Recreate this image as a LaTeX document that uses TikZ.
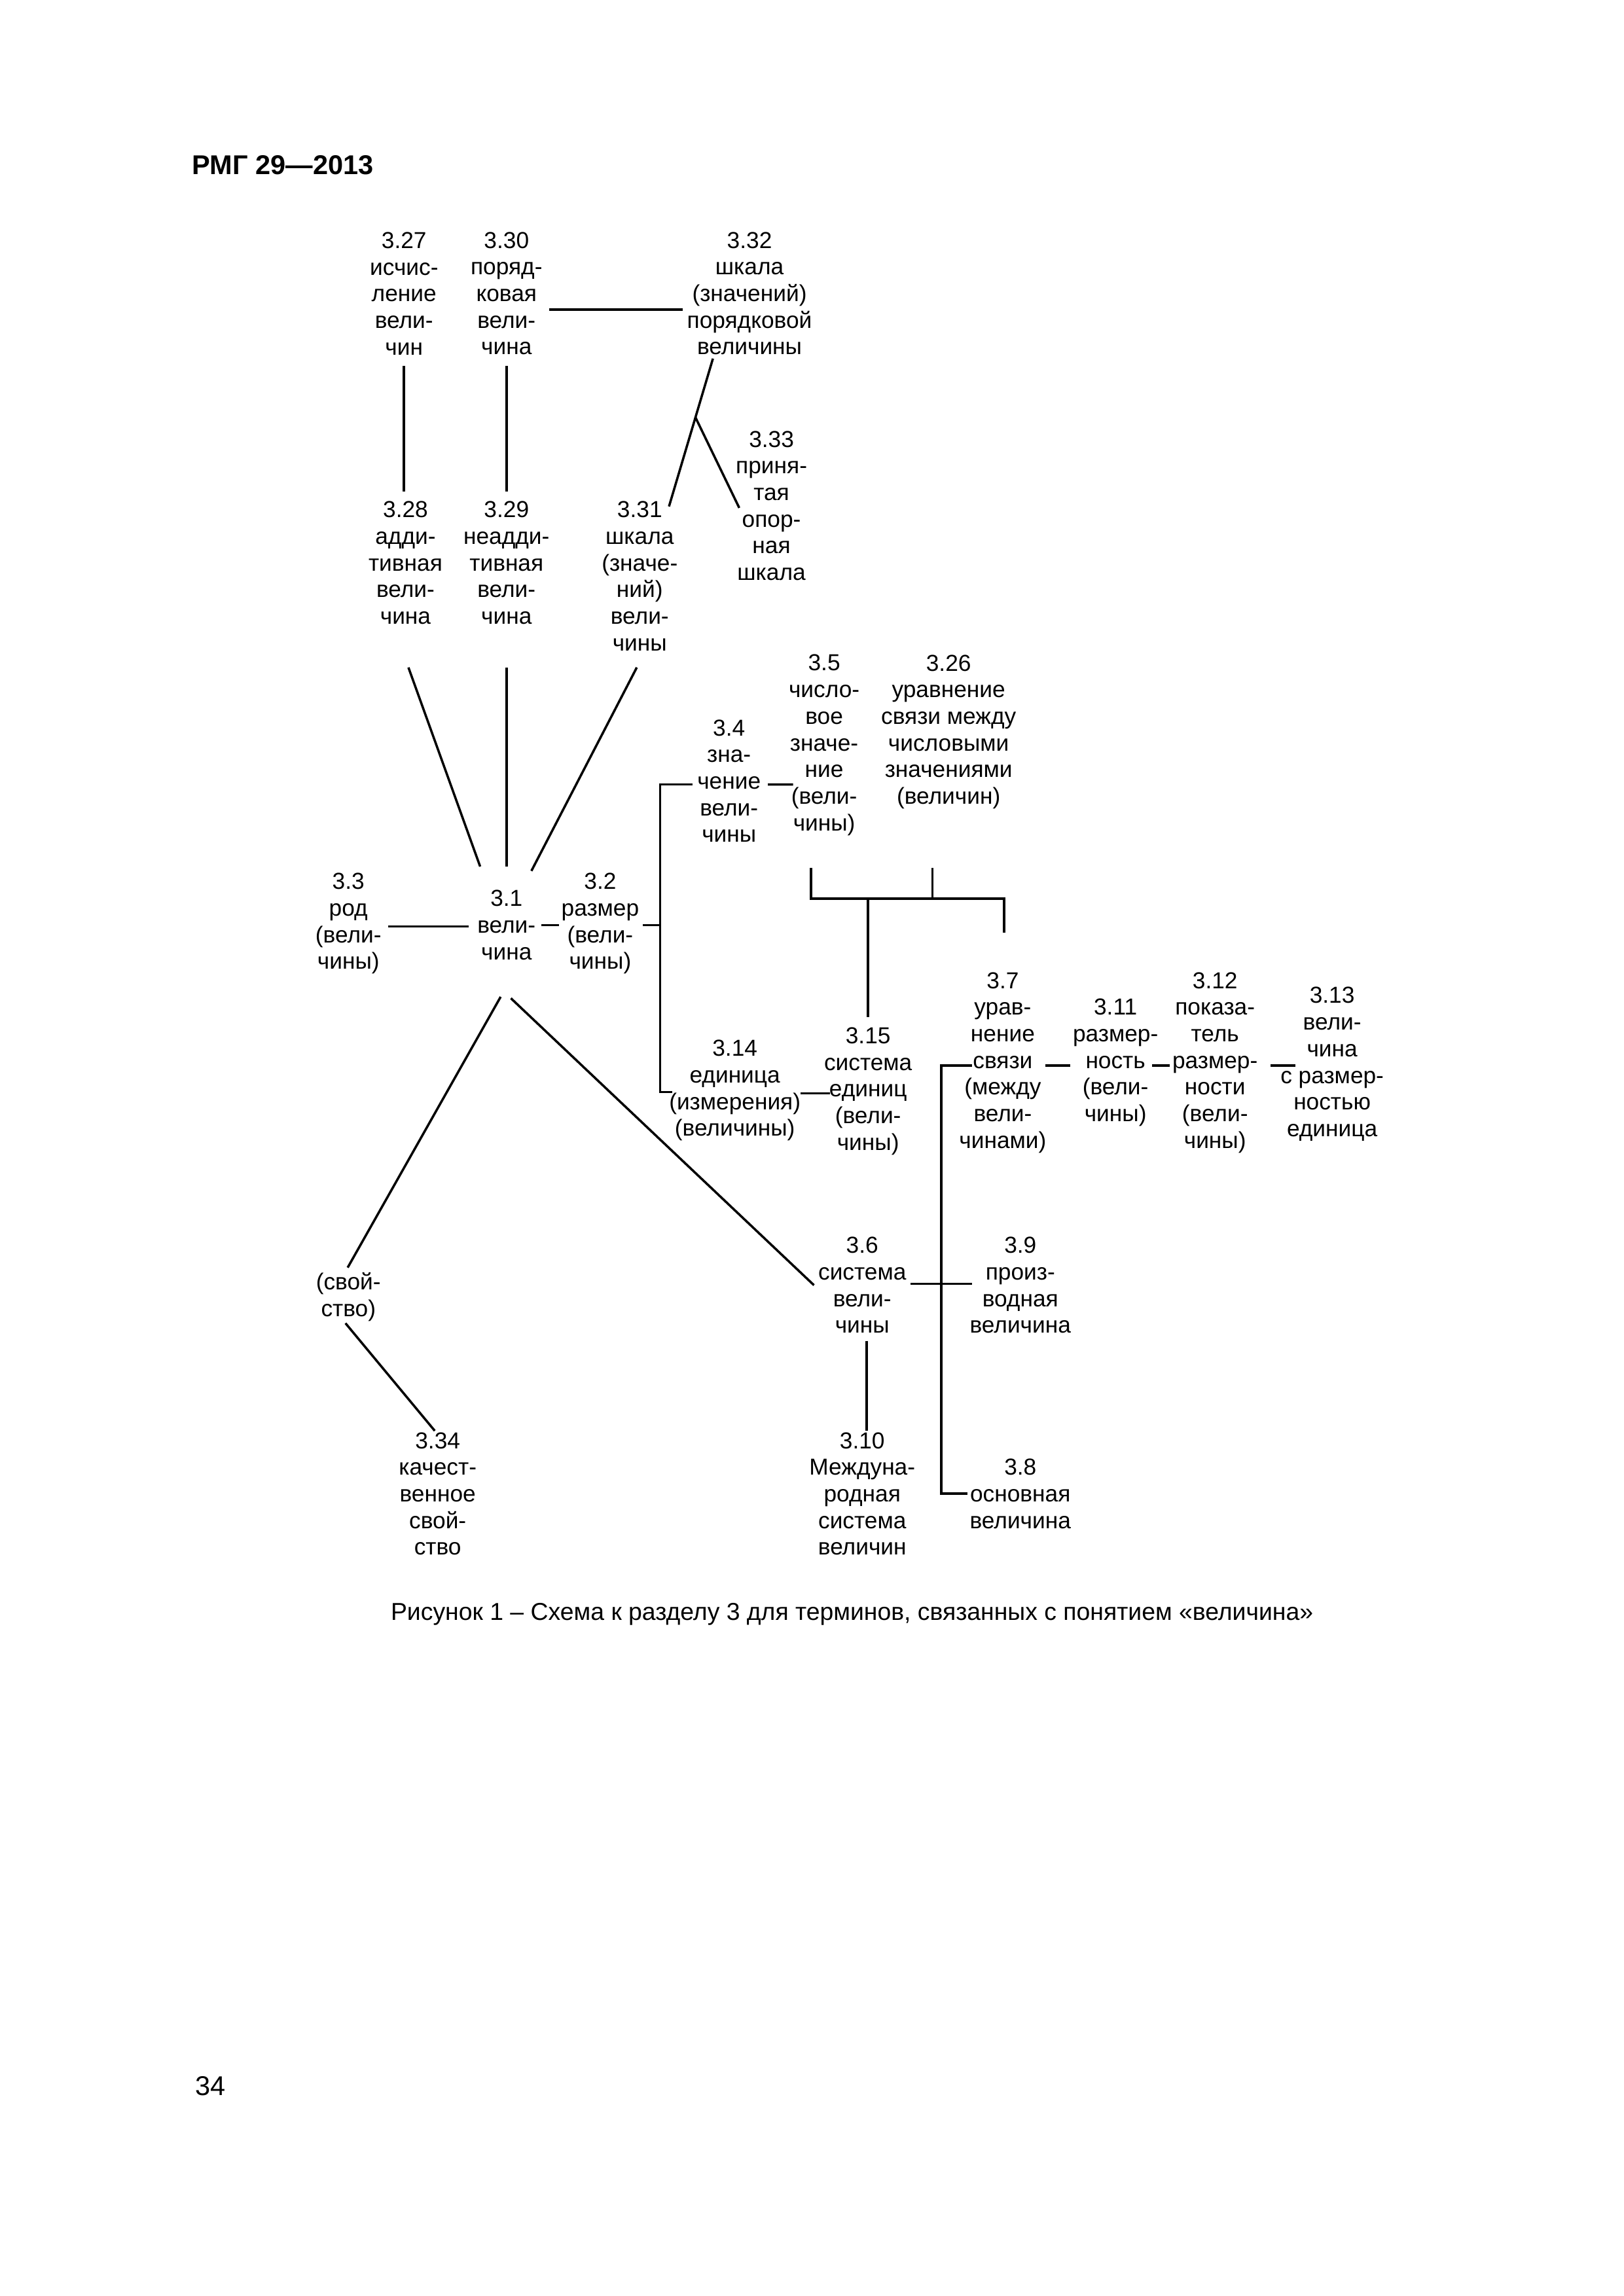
\documentclass[tikz,border=0pt]{standalone}
\usepackage{fontspec}
\setmainfont{Liberation Sans}
\tikzset{
  term/.style={align=center, inner sep=0pt, font=\fontsize{8.5}{9.8}\selectfont},
  pagetext/.style={inner sep=0pt, font=\fontsize{10}{12}\selectfont},
  link/.style={line width=0.85pt}
}

\begin{document}
\begin{tikzpicture}[x=0.018936cm, y=-0.018936cm]
  \useasboundingbox (0,0) rectangle (1109,1568.6);
  \node[pagetext, font=\fontsize{10}{12}\selectfont\bfseries, anchor=west] (head) at (131,113) {РМГ 29—2013};
  % upper row
  \node[term] (t327) at (276,200.5) {3.27\\исчис-\\ление\\вели-\\чин};
  \node[term] (t330) at (346,200.5) {3.30\\поряд-\\ковая\\вели-\\чина};
  \node[term] (t332) at (512,200.5) {3.32\\шкала\\(значений)\\порядковой\\величины};
  \node[term] (t328) at (277,384.5) {3.28\\адди-\\тивная\\вели-\\чина};
  \node[term] (t329) at (346,384.5) {3.29\\неадди-\\тивная\\вели-\\чина};
  \node[term] (t331) at (437,393.5) {3.31\\шкала\\(значе-\\ний)\\вели-\\чины};
  \node[term] (t333) at (527,345.5) {3.33\\приня-\\тая\\опор-\\ная\\шкала};
  % middle row
  \node[term] (t33) at (238,631) {3.3\\род\\(вели-\\чины)};
  \node[term] (t31) at (346,632) {3.1\\вели-\\чина};
  \node[term] (t32) at (410,631) {3.2\\размер\\(вели-\\чины)};
  \node[term] (t34) at (498,533.5) {3.4\\зна-\\чение\\вели-\\чины};
  \node[term] (t35) at (563,509) {3.5\\число-\\вое\\значе-\\ние\\(вели-\\чины)};
  \node[term] (t326) at (648,500) {3.26\\уравнение\\связи между\\числовыми\\значениями\\(величин)};
  \node[term] (t314) at (502,745) {3.14\\единица\\(измерения)\\(величины)};
  \node[term] (t315) at (593,745.5) {3.15\\система\\единиц\\(вели-\\чины)};
  \node[term] (t37) at (685,726) {3.7\\урав-\\нение\\связи\\(между\\вели-\\чинами)};
  \node[term] (t311) at (762,726) {3.11\\размер-\\ность\\(вели-\\чины)};
  \node[term] (t312) at (830,726) {3.12\\показа-\\тель\\размер-\\ности\\(вели-\\чины)};
  \node[term] (t313) at (910,727) {3.13\\вели-\\чина\\с размер-\\ностью\\единица};
  % lower row
  \node[term] (t36) at (589,878) {3.6\\система\\вели-\\чины};
  \node[term] (t39) at (697,878) {3.9\\произ-\\водная\\величина};
  \node[term] (t310) at (589,1020.5) {3.10\\Междуна-\\родная\\система\\величин};
  \node[term] (t38) at (697,1020.5) {3.8\\основная\\величина};
  \node[term] (tprop) at (238,886) {(свой-\\ство)};
  \node[term] (t334) at (299,1020.5) {3.34\\качест-\\венное\\свой-\\ство};
  \node[pagetext, font=\fontsize{9}{11}\selectfont] (caption) at (582,1103) {Рисунок 1 – Схема к разделу 3 для терминов, связанных с понятием «величина»};
  \node[pagetext, anchor=west] (pageno) at (133,1425) {34};

  % junctions
  \coordinate (fork) at (475,285);
  \coordinate (busmid) at (451,632);
  \coordinate (busbot) at (451,746);
  \coordinate (jb) at (593,614);
  \coordinate (rbus) at (643,1020.5);
  \coordinate (t35foot) at ([shift={(-9,84)}]t35.center);
  \coordinate (t326foot) at ([shift={(-11,93)}]t326.center);

  \draw[link] ([shift={(0,49.5)}]t327.center) -- ([shift={(-1,-48.5)}]t328.center);
  \draw[link] ([shift={(0,49.5)}]t330.center) -- ([shift={(0,-48.5)}]t329.center);
  \draw[link] ([shift={(29,11)}]t330.center) -- ([shift={(-45.5,11)}]t332.center);
  \draw[link] ([shift={(-25,44.5)}]t332.center) -- ([shift={(20,-47.5)}]t331.center);
  \draw[link] (fork) -- ([shift={(-22,1.5)}]t333.center);
  \draw[link] ([shift={(2,71.5)}]t328.center) -- ([shift={(-18,-40)}]t31.center);
  \draw[link] ([shift={(0,71.5)}]t329.center) -- ([shift={(0,-40)}]t31.center);
  \draw[link] ([shift={(-2,62.5)}]t331.center) -- ([shift={(17,-37)}]t31.center);
  \draw[link] ([shift={(27,2)}]t33.center) -- ([shift={(-26,1)}]t31.center);
  \draw[link] ([shift={(24,0)}]t31.center) -- ([shift={(-28,1)}]t32.center);
  \draw[link] ([shift={(29,1)}]t32.center) -- (busmid);
  \draw[link] ([shift={(-25,2.5)}]t34.center) -| (busbot) -- ([shift={(-43,1)}]t314.center);
  \draw[link] ([shift={(26.6,2.5)}]t34.center) -- ([shift={(-21.2,27)}]t35.center);
  \draw[link] (t35foot) |- (jb) -| ([shift={(1,-89)}]t37.center);
  \draw[link] (t326foot) -- (t326foot |- jb);
  \draw[link] (jb) -- ([shift={(0,-50.5)}]t315.center);
  \draw[link] ([shift={(45,2)}]t314.center) -- ([shift={(-26,1.5)}]t315.center);
  \draw[link] ([shift={(29,2)}]t37.center) -- ([shift={(-31,2)}]t311.center);
  \draw[link] ([shift={(25,2)}]t311.center) -- ([shift={(-31,2)}]t312.center);
  \draw[link] ([shift={(38,2)}]t312.center) -- ([shift={(-25,1)}]t313.center);
  \draw[link] ([shift={(-21,2)}]t37.center) -| (rbus) -- ([shift={(-36,0)}]t38.center);
  \draw[link] ([shift={(3,50)}]t31.center) -- ([shift={(-33,0)}]t36.center);
  \draw[link] ([shift={(-4,49)}]t31.center) -- ([shift={(-0.5,-20)}]tprop.center);
  \draw[link] ([shift={(-2,18)}]tprop.center) -- ([shift={(-2,-43)}]t334.center);
  \draw[link] ([shift={(33,-1)}]t36.center) -- ([shift={(-33,-1)}]t39.center);
  \draw[link] ([shift={(3,38)}]t36.center) -- ([shift={(3,-43)}]t310.center);
\end{tikzpicture}
\end{document}
